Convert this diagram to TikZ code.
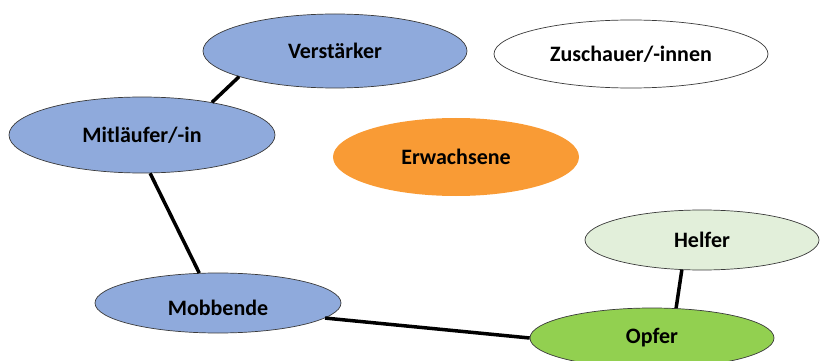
\documentclass[tikz,border=0pt]{standalone}
\usepackage{fontspec}
\setmainfont{Carlito}
\usetikzlibrary{shapes.geometric}
\definecolor{rolblue}{HTML}{8FAADC}
\definecolor{rolorange}{HTML}{F99B35}
\definecolor{rollight}{HTML}{E2EFDA}
\definecolor{rolgreen}{HTML}{92D050}
\definecolor{roledge}{HTML}{3A3A3A}
\tikzset{
  rolefont/.style={font=\fontsize{22}{26}\selectfont\bfseries, text=black},
  role/.style={ellipse, draw=roledge, line width=0.7pt, inner sep=0pt, rolefont},
  link/.style={line width=3.5pt, draw=black}
}
\begin{document}
\begin{tikzpicture}[x=1pt,y=-1pt]
\useasboundingbox (0,0) rectangle (823,361);
\node[role, fill=rolblue, minimum width=264pt, minimum height=74pt] (verst) at (335,51) {Verstärker};
\node[role, fill=white, minimum width=274pt, minimum height=68pt] (zusch) at (631,54) {Zuschauer/-innen};
\node[role, fill=rolblue, minimum width=266pt, minimum height=76pt] (mitl) at (142,135) {Mitläufer/-in};
\node[role, fill=rolorange, draw=none, minimum width=246pt, minimum height=78pt] (erw) at (456,157) {Erwachsene};
\node[role, fill=rollight, minimum width=234pt, minimum height=60pt] (helf) at (702,240) {Helfer};
\node[role, fill=rolblue, minimum width=246pt, minimum height=60pt,
  label={[rolefont, yshift=-5pt]center:Mobbende}] (mobb) at (218,303) {};
\node[role, fill=rolgreen, minimum width=244pt, minimum height=60pt] (opf) at (652,338) {Opfer};
\draw[link] (verst.195) -- (mitl.25);
\draw[link] (mitl.282) -- (mobb.122);
\draw[link] (mobb.352) -- (opf.180);
\draw[link] (helf.236) -- (opf.51);
\end{tikzpicture}
\end{document}
